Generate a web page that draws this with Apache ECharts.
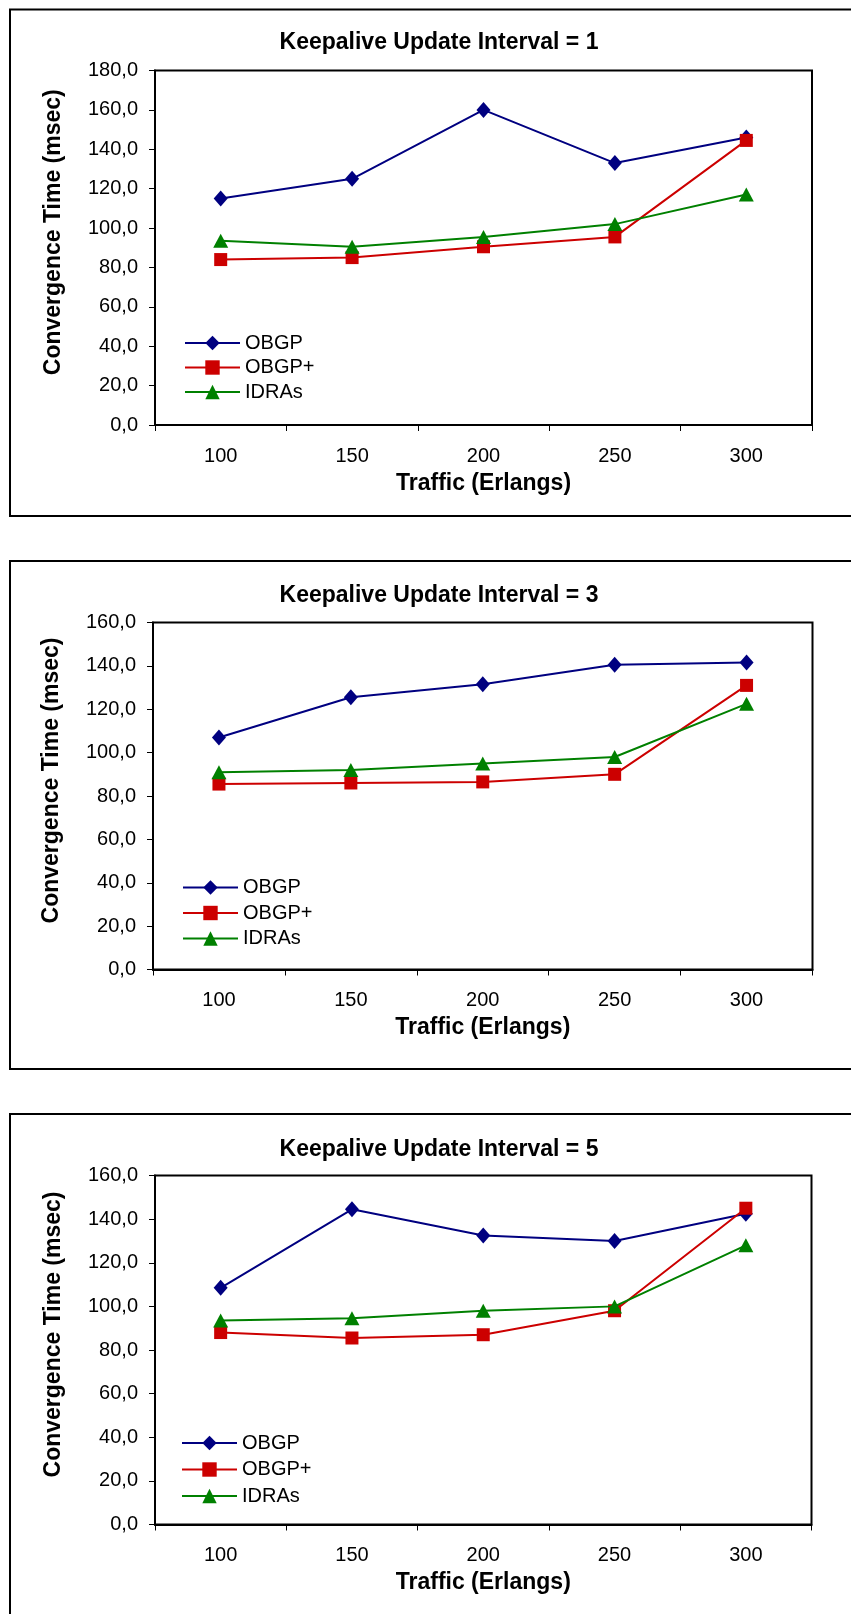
<!DOCTYPE html>
<html>
<head>
<meta charset="utf-8">
<script src="https://cdn.jsdelivr.net/npm/echarts@6/dist/echarts.min.js"></script>
<style>
  html, body { margin: 0; padding: 0; background: #fff; }
  #chart { width: 851px; height: 1614px; }
</style>
</head>
<body>
<div id="chart"></div>
<script>
// Traffic load levels (Erlangs) on the category axis
const categories = ['100', '150', '200', '250', '300'];
const seriesNames = ['OBGP', 'OBGP+', 'IDRAs'];
const panelTitles = [
  'Keepalive Update Interval = 1',
  'Keepalive Update Interval = 3',
  'Keepalive Update Interval = 5'
];
const yMax = [180, 160, 160];
const yInterval = 20;

// Convergence time (msec), keepalive update interval = 1
const obgpK1  = [115, 125, 160, 133, 146];
const obgpPK1 = [84, 85, 90.5, 95.5, 144.5];
const idrasK1 = [93.5, 90.5, 95.5, 102, 117];

// Convergence time (msec), keepalive update interval = 3
const obgpK3  = [107, 125.5, 131.5, 140.5, 141.5];
const obgpPK3 = [85.5, 86, 86.5, 90, 131];
const idrasK3 = [91, 92, 95, 98, 122.5];

// Convergence time (msec), keepalive update interval = 5
const obgpK5  = [108.5, 144.5, 132.5, 130, 142.5];
const obgpPK5 = [88, 85.5, 87, 98, 145];
const idrasK5 = [93.5, 94.5, 98, 100, 128];

const panelData = [
  [obgpK1, obgpPK1, idrasK1],
  [obgpK3, obgpPK3, idrasK3],
  [obgpK5, obgpPK5, idrasK5]
];

const FONT = '"Liberation Sans", Arial, Helvetica, sans-serif';
const colors = ['#000080', '#cc0000', '#008000'];
const symbols = ['diamond', 'rect', 'triangle'];
const symbolSizes = [[14, 16], 13, [15, 14]];

// Layout of each panel (plot area, frame, title, legend)
const layout = [
  { grid: { left: 155, top: 70.5, width: 657, height: 354.5 }, frameTop: 9.5, frameH: 506.5, titleTop: 31, legendTop: 333, legendLeft: 184, legendGap: 4.5 },
  { grid: { left: 153, top: 622.5, width: 659.5, height: 347 }, frameTop: 561, frameH: 508, titleTop: 584, legendTop: 877.5, legendLeft: 182, legendGap: 5.5 },
  { grid: { left: 155, top: 1175.5, width: 656.5, height: 349 }, frameTop: 1114, frameH: 520, titleTop: 1138, legendTop: 1433, legendLeft: 181, legendGap: 6.5 }
];

const option = {
  animation: false,
  backgroundColor: '#fff',
  textStyle: { fontFamily: FONT, color: '#000' },
  title: [],
  legend: [],
  grid: [],
  xAxis: [],
  yAxis: [],
  series: [],
  graphic: []
};

layout.forEach((p, i) => {
  option.graphic.push({
    type: 'rect', silent: true, z: 0,
    shape: { x: 10, y: p.frameTop, width: 900, height: p.frameH },
    style: { fill: 'none', stroke: '#000', lineWidth: 2 }
  });

  option.title.push({
    text: panelTitles[i],
    left: 439, top: p.titleTop, padding: 0,
    textAlign: 'center', textVerticalAlign: 'top',
    textStyle: { fontFamily: FONT, fontSize: 23, fontWeight: 'bold', color: '#000' }
  });

  option.grid.push(Object.assign({
    show: true, borderColor: '#000', borderWidth: 2, backgroundColor: 'transparent'
  }, p.grid));

  option.xAxis.push({
    type: 'category', gridIndex: i, data: categories, boundaryGap: true,
    name: 'Traffic (Erlangs)', nameLocation: 'middle', nameGap: 47,
    nameTextStyle: { fontFamily: FONT, fontSize: 23, fontWeight: 'bold', color: '#000' },
    axisLine: { show: true, lineStyle: { color: '#000', width: 2 } },
    axisTick: { show: true, length: 6, inside: false, lineStyle: { color: '#000', width: 1 } },
    axisLabel: { fontFamily: FONT, fontSize: 20, color: '#000', margin: 21, interval: 0 },
    splitLine: { show: false }
  });

  option.yAxis.push({
    type: 'value', gridIndex: i, min: 0, max: yMax[i], interval: yInterval,
    name: 'Convergence Time (msec)', nameLocation: 'middle', nameGap: 89.5,
    nameTextStyle: { fontFamily: FONT, fontSize: 23, fontWeight: 'bold', color: '#000', padding: [0, 0, 0, 31] },
    axisLine: { show: true, lineStyle: { color: '#000', width: 2 } },
    axisTick: { show: true, length: 6, inside: false, lineStyle: { color: '#000', width: 1 } },
    axisLabel: {
      fontFamily: FONT, fontSize: 20, color: '#000', margin: 17,
      formatter: v => v.toFixed(1).replace('.', ',')
    },
    splitLine: { show: false }
  });

  option.legend.push({
    show: true, orient: 'vertical',
    left: p.legendLeft, top: p.legendTop, padding: 0,
    itemWidth: 55, itemHeight: 18, itemGap: p.legendGap - 0,
    selectedMode: false,
    data: seriesNames,
    textStyle: { fontFamily: FONT, fontSize: 20, color: '#000', lineHeight: 20 }
  });

  seriesNames.forEach((name, s) => {
    option.series.push({
      name: name, type: 'line',
      xAxisIndex: i, yAxisIndex: i,
      data: panelData[i][s],
      symbol: symbols[s], symbolSize: symbolSizes[s],
      showSymbol: true,
      lineStyle: { color: colors[s], width: 2 },
      itemStyle: { color: colors[s], borderWidth: 0 },
      emphasis: { disabled: true },
      z: 2 + s
    });
  });
});

const chart = echarts.init(document.getElementById('chart'), null, { renderer: 'canvas' });
chart.setOption(option);
</script>
</body>
</html>
